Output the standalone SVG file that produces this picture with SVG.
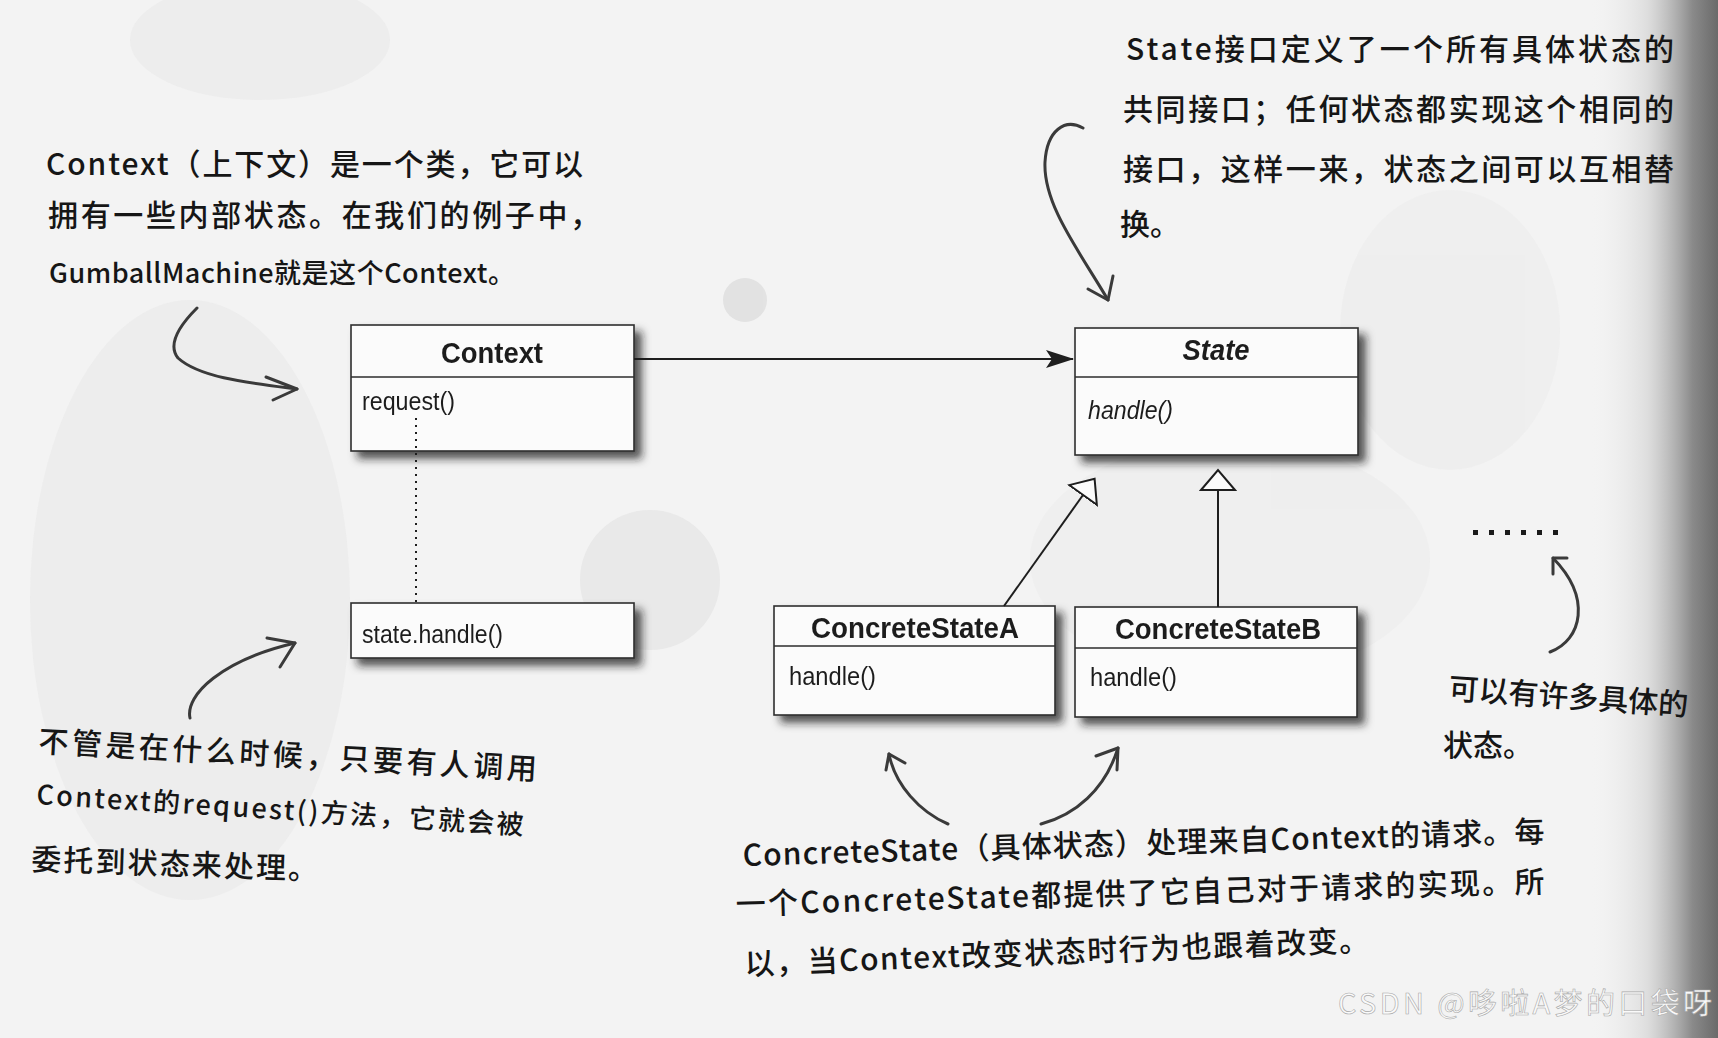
<svg xmlns="http://www.w3.org/2000/svg" width="1718" height="1038" viewBox="0 0 1718 1038">
<style>
.box{fill:#fbfbfb;stroke:#2e2e2e;stroke-width:1.6}
.div{stroke:#2e2e2e;stroke-width:1.6}
.uml{font-family:"Liberation Sans",Arial,sans-serif;fill:#1e1e1e}
.title{font-size:29px;font-weight:bold}
.op{font-size:25px}
.note{font-family:"Noto Sans CJK SC","Noto Sans",sans-serif;font-size:30px;font-weight:500;fill:#161616}
.note.sm{font-size:27px}
.hand{fill:none;stroke:#3a3a3a;stroke-width:3;stroke-linecap:round;stroke-linejoin:round}
.conn{fill:none;stroke:#1e1e1e;stroke-width:2}
</style>
<defs>
<filter id="sh" x="-10%" y="-20%" width="130%" height="150%">
<feGaussianBlur in="SourceAlpha" stdDeviation="4"/>
<feOffset dx="7" dy="7" result="b"/>
<feFlood flood-color="#1a1a1a" flood-opacity="0.75"/>
<feComposite in2="b" operator="in" result="s"/>
<feMerge><feMergeNode in="s"/><feMergeNode in="SourceGraphic"/></feMerge>
</filter>
<linearGradient id="edge" x1="0" y1="0" x2="1" y2="0">
<stop offset="0" stop-color="#f3f3f3" stop-opacity="0"/>
<stop offset="0.45" stop-color="#cfcfcf" stop-opacity="0.6"/>
<stop offset="0.8" stop-color="#8a8a8a"/>
<stop offset="1" stop-color="#6a6a6a"/>
</linearGradient>
<marker id="fill" viewBox="0 0 28 18" refX="27" refY="9" markerWidth="28" markerHeight="18" markerUnits="userSpaceOnUse" orient="auto">
<path d="M0,0 L28,9 L0,18 L6,9 Z" fill="#1e1e1e"/>
</marker>
<marker id="gen" viewBox="0 0 24 38" refX="1" refY="19" markerWidth="24" markerHeight="38" markerUnits="userSpaceOnUse" orient="auto">
<path d="M1,2 L21,19 L1,36 Z" fill="#fbfbfb" stroke="#1e1e1e" stroke-width="2"/>
</marker>
</defs>

<!-- background -->
<rect width="1718" height="1038" fill="#f3f3f3"/>
<g fill="#ebebeb" opacity="0.8">
<ellipse cx="190" cy="600" rx="160" ry="300"/>
<ellipse cx="650" cy="580" rx="70" ry="70" fill="#e6e6e6"/>
<ellipse cx="745" cy="300" rx="22" ry="22" fill="#dedede"/>
<ellipse cx="260" cy="40" rx="130" ry="60"/>
<ellipse cx="1230" cy="560" rx="200" ry="120" fill="#eeeeee"/>
<ellipse cx="1450" cy="330" rx="110" ry="140" fill="#eeeeee"/>
</g>
<rect x="1590" y="0" width="128" height="1038" fill="url(#edge)"/>

<!-- nodes -->
<g id="context" filter="url(#sh)">
<rect class="box" x="351" y="325" width="283" height="126"/>
<line class="div" x1="351" y1="377" x2="634" y2="377"/>
<text class="uml title" x="492" y="363" text-anchor="middle" textLength="102" lengthAdjust="spacingAndGlyphs">Context</text>
<text class="uml op" x="362" y="410" textLength="93" lengthAdjust="spacingAndGlyphs">request()</text>
</g>

<g id="note-handle" filter="url(#sh)">
<rect class="box" x="351" y="603" width="283" height="55"/>
<text class="uml op" x="362" y="643" textLength="141" lengthAdjust="spacingAndGlyphs">state.handle()</text>
</g>

<g id="state" filter="url(#sh)">
<rect class="box" x="1075" y="328" width="283" height="127"/>
<line class="div" x1="1075" y1="377" x2="1358" y2="377"/>
<text class="uml title" x="1216" y="360" text-anchor="middle" font-style="italic" textLength="67" lengthAdjust="spacingAndGlyphs">State</text>
<text class="uml op" x="1088" y="419" font-style="italic" textLength="85" lengthAdjust="spacingAndGlyphs">handle()</text>
</g>

<g id="concreteStateA" filter="url(#sh)">
<rect class="box" x="774" y="606" width="281" height="109"/>
<line class="div" x1="774" y1="646" x2="1055" y2="646"/>
<text class="uml title" x="915" y="638" text-anchor="middle" textLength="208" lengthAdjust="spacingAndGlyphs">ConcreteStateA</text>
<text class="uml op" x="789" y="685" textLength="87" lengthAdjust="spacingAndGlyphs">handle()</text>
</g>

<g id="concreteStateB" filter="url(#sh)">
<rect class="box" x="1075" y="607" width="282" height="110"/>
<line class="div" x1="1075" y1="648" x2="1357" y2="648"/>
<text class="uml title" x="1218" y="639" text-anchor="middle" textLength="206" lengthAdjust="spacingAndGlyphs">ConcreteStateB</text>
<text class="uml op" x="1090" y="686" textLength="87" lengthAdjust="spacingAndGlyphs">handle()</text>
</g>

<g id="more-states">
<g fill="#1a1a1a">
<rect x="1473" y="530" width="5" height="5"/>
<rect x="1489" y="530" width="5" height="5"/>
<rect x="1505" y="530" width="5" height="5"/>
<rect x="1521" y="530" width="5" height="5"/>
<rect x="1537" y="530" width="5" height="5"/>
<rect x="1553" y="530" width="5" height="5"/>
</g>
</g>

<!-- connectors -->
<g id="connectors">
<line class="conn" x1="634" y1="359" x2="1073" y2="359" marker-end="url(#fill)"/>
<line class="conn" x1="416" y1="418" x2="416" y2="603" stroke-dasharray="2 5" stroke-width="2.2"/>
<line class="conn" x1="1004" y1="606" x2="1083" y2="495" marker-end="url(#gen)"/>
<line class="conn" x1="1218" y1="607" x2="1218" y2="490" marker-end="url(#gen)"/>
</g>

<!-- annotations -->
<g id="note-context">
<text class="note" x="46" y="175" textLength="537" lengthAdjust="spacing">Context（上下文）是一个类，它可以</text>
<text class="note" x="48" y="226" textLength="552" lengthAdjust="spacing">拥有一些内部状态。在我们的例子中，</text>
<text class="note sm" x="49" y="283" textLength="466" lengthAdjust="spacing">GumballMachine就是这个Context。</text>
<path class="hand" d="M197,308 C182,323 166,343 178,358 C200,378 250,383 297,389"/>
<path class="hand" d="M266,377 L297,389 L273,400"/>
</g>

<g id="note-state">
<text class="note" x="1126" y="60" textLength="548" lengthAdjust="spacing">State接口定义了一个所有具体状态的</text>
<text class="note" x="1123" y="120" textLength="551" lengthAdjust="spacing">共同接口；任何状态都实现这个相同的</text>
<text class="note" x="1123" y="180" textLength="551" lengthAdjust="spacing">接口，这样一来，状态之间可以互相替</text>
<text class="note" x="1120" y="235">换。</text>
<path class="hand" d="M1083,128 C1065,118 1047,130 1045,162 C1043,205 1080,252 1108,300"/>
<path class="hand" d="M1088,289 L1108,300 L1113,276"/>
</g>

<g id="note-request">
<text class="note" x="38" y="752" transform="rotate(3.2 38 752)" textLength="499" lengthAdjust="spacing">不管是在什么时候，只要有人调用</text>
<text class="note sm" x="36" y="804" transform="rotate(3.6 36 804)" textLength="488" lengthAdjust="spacing">Context的request()方法，它就会被</text>
<text class="note" x="31" y="870" transform="rotate(2 31 870)" textLength="287" lengthAdjust="spacing">委托到状态来处理。</text>
<path class="hand" d="M190,718 C185,695 222,660 295,643"/>
<path class="hand" d="M267,638 L295,643 L280,667"/>
</g>

<g id="note-concrete">
<text class="note" x="743" y="866" transform="rotate(-1.7 743 866)" textLength="802" lengthAdjust="spacing">ConcreteState（具体状态）处理来自Context的请求。每</text>
<text class="note" x="736" y="915" transform="rotate(-1.6 736 915)" textLength="809" lengthAdjust="spacing">一个ConcreteState都提供了它自己对于请求的实现。所</text>
<text class="note" x="745" y="975" transform="rotate(-2.2 745 975)" textLength="625" lengthAdjust="spacing">以，当Context改变状态时行为也跟着改变。</text>
<path class="hand" d="M948,824 C920,812 895,785 889,754"/>
<path class="hand" d="M886,770 L889,754 L905,763"/>
<path class="hand" d="M1041,824 C1075,815 1105,790 1118,748"/>
<path class="hand" d="M1096,756 L1118,748 L1117,770"/>
</g>

<g id="note-many">
<text class="note" x="1448" y="699" transform="rotate(4 1448 699)" textLength="240" lengthAdjust="spacing">可以有许多具体的</text>
<text class="note" x="1443" y="756">状态。</text>
<path class="hand" d="M1550,652 C1582,640 1592,598 1553,558"/>
<path class="hand" d="M1553,574 L1553,558 L1567,558"/>
</g>

<text x="1712" y="1014" text-anchor="end" font-family="Noto Sans CJK SC, sans-serif" font-size="29" fill="#fafafa" stroke="#a8a8a8" stroke-width="0.6" textLength="374" lengthAdjust="spacing">CSDN @哆啦A梦的口袋呀</text>
</svg>
